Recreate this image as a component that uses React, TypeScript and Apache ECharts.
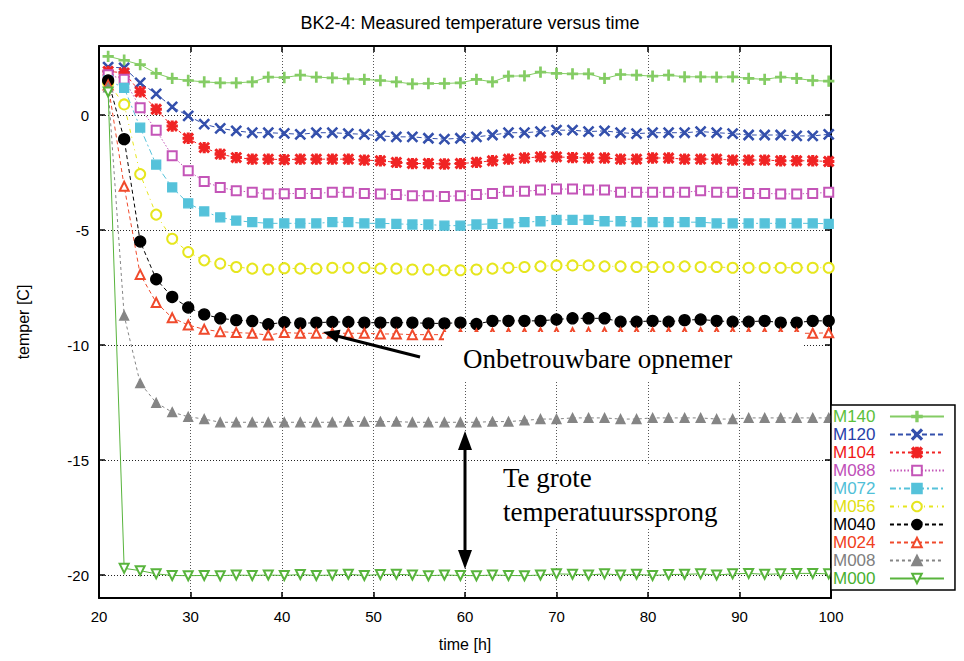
import React, { useEffect, useRef } from "react";
import * as echarts from "echarts";

const TIME_H = [21, 22.75, 24.5, 26.25, 28, 29.75, 31.5, 33.25, 35, 36.75, 38.5, 40.25, 42, 43.75, 45.5, 47.25, 49, 50.75, 52.5, 54.25, 56, 57.75, 59.5, 61.25, 63, 64.75, 66.5, 68.25, 70, 71.75, 73.5, 75.25, 77, 78.75, 80.5, 82.25, 84, 85.75, 87.5, 89.25, 91, 92.75, 94.5, 96.25, 98, 99.75];

const M140 = [2.55, 2.38, 2.19, 1.81, 1.59, 1.5, 1.44, 1.4, 1.4, 1.44, 1.65, 1.63, 1.73, 1.65, 1.61, 1.57, 1.55, 1.5, 1.44, 1.35, 1.37, 1.37, 1.4, 1.55, 1.44, 1.69, 1.7, 1.86, 1.81, 1.79, 1.79, 1.59, 1.76, 1.73, 1.69, 1.73, 1.66, 1.66, 1.65, 1.66, 1.59, 1.55, 1.65, 1.59, 1.5, 1.47];
const M120 = [2.08, 2.05, 1.4, 0.92, 0.35, -0.04, -0.4, -0.58, -0.69, -0.77, -0.77, -0.8, -0.84, -0.77, -0.77, -0.81, -0.84, -0.91, -0.95, -0.95, -1.01, -1.05, -1.01, -0.95, -0.87, -0.77, -0.77, -0.72, -0.66, -0.66, -0.72, -0.69, -0.77, -0.81, -0.77, -0.77, -0.77, -0.72, -0.77, -0.81, -0.87, -0.87, -0.87, -0.91, -0.91, -0.84];
const M104 = [1.9, 1.83, 1.01, 0.25, -0.48, -1.01, -1.42, -1.7, -1.85, -1.92, -1.92, -1.94, -1.92, -1.92, -1.92, -1.92, -1.96, -1.99, -2.06, -2.11, -2.11, -2.13, -2.11, -2.06, -1.99, -1.92, -1.87, -1.82, -1.82, -1.85, -1.87, -1.87, -1.92, -1.92, -1.87, -1.87, -1.92, -1.92, -1.92, -1.96, -1.96, -1.96, -1.99, -1.99, -1.99, -2.02];
const M088 = [1.75, 1.55, 0.32, -0.66, -1.77, -2.42, -2.89, -3.15, -3.29, -3.36, -3.43, -3.42, -3.41, -3.41, -3.36, -3.36, -3.41, -3.43, -3.46, -3.51, -3.51, -3.54, -3.51, -3.46, -3.41, -3.32, -3.32, -3.26, -3.22, -3.22, -3.26, -3.26, -3.36, -3.36, -3.36, -3.36, -3.36, -3.29, -3.36, -3.36, -3.41, -3.41, -3.43, -3.43, -3.41, -3.36];
const M072 = [1.5, 1.18, -0.55, -2.16, -3.15, -3.84, -4.19, -4.45, -4.59, -4.66, -4.71, -4.71, -4.71, -4.71, -4.66, -4.66, -4.71, -4.71, -4.73, -4.76, -4.76, -4.81, -4.81, -4.76, -4.73, -4.71, -4.66, -4.62, -4.56, -4.56, -4.56, -4.62, -4.62, -4.66, -4.66, -4.66, -4.66, -4.66, -4.71, -4.71, -4.71, -4.71, -4.71, -4.71, -4.71, -4.73];
const M056 = [1.4, 0.46, -2.57, -4.33, -5.38, -5.96, -6.32, -6.46, -6.61, -6.68, -6.72, -6.66, -6.68, -6.68, -6.64, -6.64, -6.64, -6.68, -6.68, -6.72, -6.72, -6.75, -6.75, -6.72, -6.68, -6.64, -6.61, -6.58, -6.54, -6.54, -6.54, -6.58, -6.58, -6.61, -6.61, -6.61, -6.58, -6.61, -6.61, -6.64, -6.64, -6.64, -6.64, -6.64, -6.64, -6.64];
const M040 = [1.5, -1.05, -5.5, -7.14, -7.91, -8.37, -8.67, -8.84, -8.92, -8.96, -9.1, -9.01, -9.06, -9.03, -9.0, -9.0, -9.03, -9.03, -9.03, -9.03, -9.06, -9.06, -9.03, -9.09, -8.95, -8.95, -8.95, -8.95, -8.89, -8.84, -8.84, -8.84, -8.99, -8.99, -8.95, -8.99, -8.92, -8.89, -8.95, -8.99, -8.99, -8.95, -9.03, -9.03, -8.95, -8.95];
const M024 = [1.3, -3.1, -6.93, -8.15, -8.82, -9.13, -9.32, -9.42, -9.46, -9.49, -9.57, -9.46, -9.49, -9.49, -9.49, -9.49, -9.49, -9.52, -9.52, -9.55, -9.55, -9.55, -9.52, -9.52, -9.49, -9.49, -9.49, -9.47, -9.47, -9.47, -9.46, -9.46, -9.47, -9.47, -9.47, -9.47, -9.47, -9.47, -9.47, -9.47, -9.49, -9.49, -9.49, -9.49, -9.49, -9.47];
const M008 = [1.2, -8.72, -11.66, -12.51, -12.92, -13.12, -13.22, -13.36, -13.36, -13.36, -13.36, -13.36, -13.36, -13.36, -13.36, -13.33, -13.33, -13.33, -13.33, -13.36, -13.36, -13.36, -13.36, -13.36, -13.33, -13.33, -13.28, -13.22, -13.22, -13.17, -13.17, -13.17, -13.22, -13.22, -13.17, -13.17, -13.17, -13.17, -13.22, -13.22, -13.17, -13.17, -13.17, -13.17, -13.17, -13.17];
const M000 = [1.0, -19.71, -19.81, -19.95, -20.02, -20.03, -20.02, -20.03, -20.0, -20.02, -20.0, -20.02, -19.98, -20.02, -20.0, -19.97, -20.02, -19.98, -19.97, -20.0, -20.03, -20.0, -20.02, -20.03, -20.0, -20.02, -20.03, -20.0, -19.95, -19.97, -20.0, -19.95, -20.0, -19.97, -20.02, -19.98, -19.97, -19.95, -20.0, -19.95, -19.93, -19.97, -19.95, -19.93, -19.93, -19.95];

const X_TICKS = [20, 30, 40, 50, 60, 70, 80, 90, 100];
const Y_TICKS = [-20, -15, -10, -5, 0];

const PLUS = "path://M4.3,0H5.7V4.3H10V5.7H5.7V10H4.3V5.7H0V4.3H4.3Z";
const CROSS = "path://M0,0.9L0.9,0L10,9.1L9.1,10ZM9.1,0L10,0.9L0.9,10L0,9.1Z";
const STAR = "path://M0,1.2L1.2,0L10,8.8L8.8,10ZM8.8,0L10,1.2L1.2,10L0,8.8ZM4.1,0H5.9V4.1H10V5.9H5.9V10H4.1V5.9H0V4.1H4.1Z";

const SERIES_DEF = [
  { name: "M140", data: M140, color: "#84cc64", text: "#5cc03c", dash: "solid", symbol: PLUS, size: 10, rotate: 0 },
  { name: "M120", data: M120, color: "#3450ac", text: "#2840a8", dash: [5, 3], symbol: CROSS, size: 10, rotate: 0 },
  { name: "M104", data: M104, color: "#f02424", text: "#f01818", dash: [3, 3], symbol: STAR, size: 10, rotate: 0 },
  { name: "M088", data: M088, color: "#c455b8", text: "#c050b8", dash: [1.5, 2], symbol: "emptyRect", size: 9, rotate: 0 },
  { name: "M072", data: M072, color: "#55c2da", text: "#50c0d8", dash: [6, 3, 2, 3], symbol: "rect", size: 9, rotate: 0 },
  { name: "M056", data: M056, color: "#e6e61e", text: "#e0e010", dash: [4, 4, 1, 4], symbol: "emptyCircle", size: 10, rotate: 0 },
  { name: "M040", data: M040, color: "#000000", text: "#000000", dash: [4, 3], symbol: "circle", size: 11, rotate: 0 },
  { name: "M024", data: M024, color: "#f04a2c", text: "#f04020", dash: [4, 3], symbol: "emptyTriangle", size: 9, rotate: 0 },
  { name: "M008", data: M008, color: "#858585", text: "#808080", dash: [3, 3], symbol: "triangle", size: 9, rotate: 0 },
  { name: "M000", data: M000, color: "#58b43c", text: "#48b030", dash: "solid", symbol: "emptyTriangle", size: 9, rotate: 180 },
];

const SANS = "Liberation Sans";
const SERIF = "Liberation Serif";

export default function App() {
  const ref = useRef<HTMLDivElement>(null);
  useEffect(() => {
    const chart = echarts.init(ref.current!, null, { renderer: "svg" });
    const tick = { show: true, inside: true, length: 6, lineStyle: { color: "#000", width: 1.5 } };
    const axisLine = { show: true, onZero: false, lineStyle: { color: "#000", width: 2 } };
    const option: any = {
      animation: false,
      backgroundColor: "#fff",
      title: {
        text: "BK2-4: Measured temperature versus time",
        left: 465,
        top: 9,
        textAlign: "center",
        textStyle: { fontFamily: SANS, fontSize: 18, fontWeight: "normal", color: "#000" },
      },
      grid: { left: 99, right: 133, top: 46, bottom: 63, outerBoundsMode: "none", containLabel: false },
      legend: {
        orient: "vertical",
        left: 831,
        top: 405,
        align: "right",
        itemWidth: 54,
        itemHeight: 12,
        itemGap: 1,
        padding: [3, 10, 3, 2],
        borderColor: "#000",
        borderWidth: 1.5,
        backgroundColor: "#fff",
        selectedMode: false,
        formatter: (n: string) => n + "  ",
        textStyle: { fontFamily: SANS, fontSize: 17 },
        data: SERIES_DEF.map((s) => ({ name: s.name, textStyle: { color: s.text } })),
      },
      xAxis: [
        {
          type: "value",
          min: X_TICKS[0],
          max: X_TICKS[X_TICKS.length - 1],
          interval: 10,
          name: "time [h]",
          nameLocation: "middle",
          nameGap: 38,
          nameTextStyle: { fontFamily: SANS, fontSize: 16, color: "#000" },
          axisLine,
          axisTick: tick,
          axisLabel: { fontFamily: SANS, fontSize: 15, color: "#000", margin: 11 },
          splitLine: { show: true, lineStyle: { color: "#555", width: 1, type: [1, 2] } },
        },
        {
          type: "value",
          position: "top",
          min: X_TICKS[0],
          max: X_TICKS[X_TICKS.length - 1],
          interval: 10,
          axisLine,
          axisTick: tick,
          axisLabel: { show: false },
          splitLine: { show: false },
        },
      ],
      yAxis: [
        {
          type: "value",
          min: -21,
          max: 3,
          name: "temper [C]",
          nameLocation: "middle",
          nameGap: 68,
          nameTextStyle: { fontFamily: SANS, fontSize: 16, color: "#000" },
          axisLine,
          axisTick: { ...tick, customValues: Y_TICKS },
          axisLabel: { fontFamily: SANS, fontSize: 15, color: "#000", margin: 10, customValues: Y_TICKS },
          splitLine: { show: true, lineStyle: { color: "#222", width: 1, type: [1, 2] } },
        },
        {
          type: "value",
          position: "right",
          min: -21,
          max: 3,
          axisLine,
          axisTick: { ...tick, customValues: Y_TICKS },
          axisLabel: { show: false, customValues: Y_TICKS },
          splitLine: { show: false },
        },
      ],
      series: SERIES_DEF.map((s) => ({
        name: s.name,
        type: "line",
        xAxisIndex: 0,
        yAxisIndex: 0,
        data: TIME_H.map((t, i) => [t, s.data[i]]),
        color: s.color,
        symbol: s.symbol,
        symbolSize: s.size,
        symbolRotate: s.rotate,
        showSymbol: true,
        lineStyle: { width: 1, type: s.dash, color: s.color },
        itemStyle: { color: s.color, borderColor: s.color, borderWidth: 1.3 },
        emphasis: { disabled: true },
      })),
      graphic: [
        { type: "rect", z: 10, shape: { x: 444, y: 332, width: 360, height: 48 }, style: { fill: "#fff" } },
        { type: "text", z: 11, x: 463, y: 358.5, style: { text: "Onbetrouwbare opnemer", fontFamily: SERIF, fontSize: 27, fill: "#000", align: "left", verticalAlign: "middle" } },
        { type: "line", z: 12, shape: { x1: 420, y1: 357, x2: 337, y2: 336 }, style: { stroke: "#000", lineWidth: 3 } },
        { type: "polygon", z: 12, shape: { points: [[323, 332], [340.5, 329.8], [337.2, 342.5]] }, style: { fill: "#000" } },
        { type: "rect", z: 10, shape: { x: 497, y: 465, width: 232, height: 62 }, style: { fill: "#fff" } },
        { type: "text", z: 11, x: 503, y: 478, style: { text: "Te grote", fontFamily: SERIF, fontSize: 27, fill: "#000", align: "left", verticalAlign: "middle" } },
        { type: "text", z: 11, x: 503, y: 512, style: { text: "temperatuurssprong", fontFamily: SERIF, fontSize: 27, fill: "#000", align: "left", verticalAlign: "middle" } },
        { type: "line", z: 12, shape: { x1: 465, y1: 446, x2: 465, y2: 555 }, style: { stroke: "#000", lineWidth: 3 } },
        { type: "polygon", z: 12, shape: { points: [[465, 431], [458, 450], [472, 450]] }, style: { fill: "#000" } },
        { type: "polygon", z: 12, shape: { points: [[465, 569], [458, 550], [472, 550]] }, style: { fill: "#000" } },
      ],
    };
    chart.setOption(option);
    return () => chart.dispose();
  }, []);
  return <div ref={ref} style={{ position: "fixed", left: 0, top: 0, width: 964, height: 661, background: "#fff" }} />;
}
